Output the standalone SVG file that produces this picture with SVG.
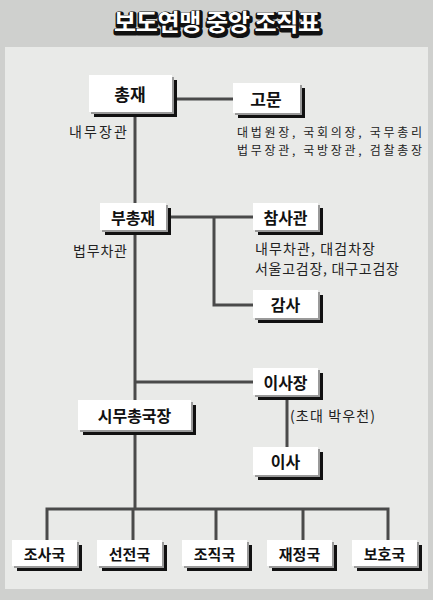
<svg xmlns="http://www.w3.org/2000/svg" width="433" height="600" viewBox="0 0 433 600">
<style>
.bg{fill:#cfd0ce}
.panel{fill:#e9eae8}
.sh{fill:#111}
.bv{fill:#9a9a9a}
.bx{fill:#ffffff}
.lbl{font-family:"Noto Sans CJK KR","Noto Sans",sans-serif;font-weight:bold;fill:#111;text-anchor:middle;dominant-baseline:central}
.sm{font-family:"Noto Sans CJK KR","Noto Sans",sans-serif;font-size:14px;fill:#222;dominant-baseline:central}
.sm2{font-family:"Noto Sans CJK KR","Noto Sans",sans-serif;font-size:12px;fill:#222;dominant-baseline:central}
.ln{fill:none;stroke:#4a4a4a;stroke-width:3}
.ttl{font-family:"Noto Sans CJK KR","Noto Sans",sans-serif;font-weight:bold;font-size:24px;text-anchor:middle}
</style>
<rect class="bg" x="0" y="0" width="433" height="600"/>
<rect class="panel" x="5" y="47" width="423" height="542"/>
<g id="title">
<text class="ttl" x="217" y="31" textLength="206" fill="#111" stroke="#111" stroke-width="5" stroke-linejoin="round" transform="translate(1,1.5)">보도연맹 중앙 조직표</text>
<text class="ttl" x="217" y="31" textLength="206" fill="#ffffff">보도연맹 중앙 조직표</text>
</g>
<g id="connectors">
<path class="ln" d="M172 99 H233"/>
<path class="ln" d="M135 112 V203"/>
<path class="ln" d="M135 230 V400"/>
<path class="ln" d="M135 430 V509"/>
<path class="ln" d="M166 217 H253"/>
<path class="ln" d="M214 217 V305 H253"/>
<path class="ln" d="M135 382 H253"/>
<path class="ln" d="M287 395 V447"/>
<path class="ln" d="M47 540 V509 H388 V540"/>
<path class="ln" d="M133 509 V540"/>
<path class="ln" d="M216 509 V540"/>
<path class="ln" d="M303 509 V540"/>
</g>
<g id="n-chongjae">
<rect class="sh" x="94" y="80" width="83" height="37"/><rect class="bv" x="91" y="77" width="83" height="37"/><rect class="bx" x="89" y="75" width="83" height="37"/>
<text class="lbl" x="130" y="93.5" font-size="17">총재</text>
<text class="sm" x="69" y="131" textLength="58">내무장관</text>
</g>
<g id="n-gomun">
<rect class="sh" x="238" y="88" width="67" height="30"/><rect class="bv" x="235" y="85" width="67" height="30"/><rect class="bx" x="233" y="83" width="67" height="30"/>
<text class="lbl" x="266" y="98" font-size="17">고문</text>
<text class="sm2" x="237" y="131" textLength="185">대법원장, 국회의장, 국무총리</text>
<text class="sm2" x="237" y="149" textLength="185">법무장관, 국방장관, 검찰총장</text>
</g>
<g id="n-buchongjae">
<rect class="sh" x="105" y="208" width="66" height="27"/><rect class="bv" x="102" y="205" width="66" height="27"/><rect class="bx" x="100" y="203" width="66" height="27"/>
<text class="lbl" x="133" y="216.5" font-size="16">부총재</text>
<text class="sm" x="73" y="250" textLength="54">법무차관</text>
</g>
<g id="n-chamsagwan">
<rect class="sh" x="258" y="208" width="65" height="27"/><rect class="bv" x="255" y="205" width="65" height="27"/><rect class="bx" x="253" y="203" width="65" height="27"/>
<text class="lbl" x="285.5" y="216.5" font-size="16">참사관</text>
<text class="sm" x="255" y="248" textLength="120">내무차관, 대검차장</text>
<text class="sm" x="255" y="268" textLength="144">서울고검장, 대구고검장</text>
</g>
<g id="n-gamsa">
<rect class="sh" x="258" y="295" width="65" height="28"/><rect class="bv" x="255" y="292" width="65" height="28"/><rect class="bx" x="253" y="290" width="65" height="28"/>
<text class="lbl" x="285.5" y="304" font-size="16">감사</text>
</g>
<g id="n-isajang">
<rect class="sh" x="258" y="373" width="65" height="27"/><rect class="bv" x="255" y="370" width="65" height="27"/><rect class="bx" x="253" y="368" width="65" height="27"/>
<text class="lbl" x="285.5" y="381.5" font-size="16">이사장</text>
<text class="sm" x="290" y="415" textLength="85">(초대 박우천)</text>
</g>
<g id="n-simuchongukjang">
<rect class="sh" x="83" y="405" width="113" height="30"/><rect class="bv" x="80" y="402" width="113" height="30"/><rect class="bx" x="78" y="400" width="113" height="30"/>
<text class="lbl" x="134.5" y="415" font-size="16">시무총국장</text>
</g>
<g id="n-isa">
<rect class="sh" x="258" y="452" width="65" height="28"/><rect class="bv" x="255" y="449" width="65" height="28"/><rect class="bx" x="253" y="447" width="65" height="28"/>
<text class="lbl" x="285.5" y="461" font-size="16">이사</text>
</g>
<g id="n-josaguk">
<rect class="sh" x="17" y="545" width="65" height="26"/><rect class="bv" x="14" y="542" width="65" height="26"/><rect class="bx" x="12" y="540" width="65" height="26"/>
<text class="lbl" x="44.5" y="553" font-size="15">조사국</text>
</g>
<g id="n-seonjeonguk">
<rect class="sh" x="102" y="545" width="65" height="26"/><rect class="bv" x="99" y="542" width="65" height="26"/><rect class="bx" x="97" y="540" width="65" height="26"/>
<text class="lbl" x="129.5" y="553" font-size="15">선전국</text>
</g>
<g id="n-jojikguk">
<rect class="sh" x="187" y="545" width="65" height="26"/><rect class="bv" x="184" y="542" width="65" height="26"/><rect class="bx" x="182" y="540" width="65" height="26"/>
<text class="lbl" x="214.5" y="553" font-size="15">조직국</text>
</g>
<g id="n-jaejeongguk">
<rect class="sh" x="272" y="545" width="65" height="26"/><rect class="bv" x="269" y="542" width="65" height="26"/><rect class="bx" x="267" y="540" width="65" height="26"/>
<text class="lbl" x="299.5" y="553" font-size="15">재정국</text>
</g>
<g id="n-bohoguk">
<rect class="sh" x="357" y="545" width="65" height="26"/><rect class="bv" x="354" y="542" width="65" height="26"/><rect class="bx" x="352" y="540" width="65" height="26"/>
<text class="lbl" x="384.5" y="553" font-size="15">보호국</text>
</g>
</svg>
